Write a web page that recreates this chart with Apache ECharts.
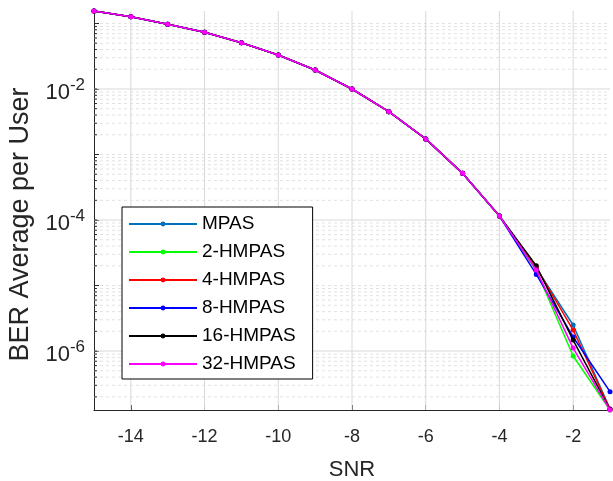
<!DOCTYPE html>
<html>
<head>
<meta charset="utf-8">
<script src="https://cdn.jsdelivr.net/npm/echarts@6/dist/echarts.min.js"></script>
<style>html,body{margin:0;padding:0;background:#fff;}#c{width:613px;height:481px;}</style>
</head>
<body>
<div id="c"></div>
<script>
const snr = [-15, -14, -13, -12, -11, -10, -9, -8, -7, -6, -5, -4, -3, -2, -1];
const seriesNames = ['MPAS', '2-HMPAS', '4-HMPAS', '8-HMPAS', '16-HMPAS', '32-HMPAS'];
const mpas    = [0.155, 0.127, 0.0973, 0.0734, 0.0509, 0.033, 0.0195, 0.01, 0.0045, 0.00173, 5.16e-4, 1.15e-4, 1.85e-5, 2.5e-6, 1.3e-7];
const hmpas2  = [0.155, 0.127, 0.0973, 0.0734, 0.0509, 0.033, 0.0195, 0.01, 0.0045, 0.00173, 5.16e-4, 1.15e-4, 1.7e-5, 8.4e-7, 1.26e-7];
const hmpas4  = [0.155, 0.127, 0.0973, 0.0734, 0.0509, 0.033, 0.0195, 0.01, 0.0045, 0.00173, 5.16e-4, 1.15e-4, 1.9e-5, 2.09e-6, 1.3e-7];
const hmpas8  = [0.155, 0.127, 0.0973, 0.0734, 0.0509, 0.033, 0.0195, 0.01, 0.0045, 0.00173, 5.16e-4, 1.15e-4, 1.48e-5, 1.64e-6, 2.4e-7];
const hmpas16 = [0.155, 0.127, 0.0973, 0.0734, 0.0509, 0.033, 0.0195, 0.01, 0.0045, 0.00173, 5.16e-4, 1.15e-4, 2.0e-5, 1.47e-6, 1.28e-7];
const hmpas32 = [0.155, 0.127, 0.0973, 0.0734, 0.0509, 0.033, 0.0195, 0.01, 0.0045, 0.00173, 5.16e-4, 1.15e-4, 1.73e-5, 1.11e-6, 1.26e-7];
const seriesColors = ['#0072BD', '#00FF00', '#FF0000', '#0000FF', '#000000', '#FF00FF'];
const xTickValues = [-14, -12, -10, -8, -6, -4, -2];
const yMajorExps = [-6, -4, -2];
const yMin = 1.26e-7, yMax = 0.155;
const xMin = -15, xMax = -1;

const allData = [mpas, hmpas2, hmpas4, hmpas8, hmpas16, hmpas32];
const FONT = "'Liberation Sans', Arial, Helvetica, sans-serif";
const AX = '#262626';

// grid lines, drawn as line series through the axes
const majorGrid = [], minorGrid = [], xGrid = [], yTickMinor = [];
for (let k = -7; k <= 0; k++) {
  for (let m = 1; m <= 9; m++) {
    const v = m * Math.pow(10, k);
    if (v <= yMin * 1.001 || v >= yMax * 0.999) continue;
    const major = (m === 1 && yMajorExps.indexOf(k) >= 0);
    (major ? majorGrid : minorGrid).push([xMin, v], [xMax, v], '-');
    yTickMinor.push([xMin, v], [xMin + 0.08, v], '-');
  }
}
xTickValues.forEach(x => xGrid.push([x, yMin], [x, yMax], '-'));

const gridStyle = (color, type) => ({
  type: 'line', showSymbol: false, symbol: 'none', silent: true, connectNulls: false,
  lineStyle: { color: color, width: 1, type: type }, z: 0, animation: false, legendHoverLink: false
});
const series = [
  Object.assign(gridStyle('#e2e2e2', [3, 3]), { name: '_minor', data: minorGrid }),
  Object.assign(gridStyle('#d9d9d9', 'solid'), { name: '_major', data: majorGrid }),
  Object.assign(gridStyle('#d9d9d9', 'solid'), { name: '_xgrid', data: xGrid }),
  Object.assign(gridStyle(AX, 'solid'), { name: '_ytick', data: yTickMinor, z: 10 })
];
seriesNames.forEach((n, i) => {
  series.push({
    name: n, type: 'line', data: snr.map((x, j) => [x, allData[i][j]]),
    symbol: 'circle', symbolSize: 5, showSymbol: true,
    lineStyle: { color: seriesColors[i], width: 1.5 },
    itemStyle: { color: seriesColors[i] },
    animation: false, clip: true, z: 2 + i
  });
});

const chart = echarts.init(document.getElementById('c'), null, { renderer: 'canvas' });
chart.setOption({
  backgroundColor: '#fff',
  animation: false,
  grid: { left: 94, right: 3, top: 11, bottom: 71, containLabel: false, outerBoundsMode: 'none' },
  xAxis: {
    type: 'value', min: xMin, max: xMax, splitNumber: 7,
    name: 'SNR', nameLocation: 'middle', nameGap: 49,
    nameTextStyle: { fontFamily: FONT, fontSize: 22, color: AX },
    axisLine: { show: true, lineStyle: { color: AX, width: 1 } },
    axisTick: { show: true, inside: true, length: 5, lineStyle: { color: AX } },
    axisLabel: { fontFamily: FONT, fontSize: 18, color: AX, margin: 18, showMinLabel: false, showMaxLabel: false,
      formatter: v => (xTickValues.indexOf(v) >= 0 ? String(v) : '') },
    splitLine: { show: false }
  },
  yAxis: {
    type: 'log', logBase: 10, min: yMin, max: yMax,
    name: 'BER Average per User', nameLocation: 'middle', nameGap: 59,
    nameTextStyle: { fontFamily: FONT, fontSize: 27, color: AX, padding: [0, 28, 0, 0] },
    axisLine: { show: true, lineStyle: { color: AX, width: 1 } },
    axisTick: { show: true, inside: true, length: 5, lineStyle: { color: AX } },
    axisLabel: {
      margin: 9, fontFamily: FONT, color: AX,
      formatter: v => {
        const e = Math.round(Math.log10(v));
        if (Math.abs(Math.log10(v) - e) > 1e-6 || yMajorExps.indexOf(e) < 0) return '';
        return '{b|10}{s|' + e + '}';
      },
      rich: {
        b: { fontFamily: FONT, fontSize: 22, color: AX, padding: [8, 0, 0, 0] },
        s: { fontFamily: FONT, fontSize: 17, color: AX, padding: [0, 0, 8, 0] }
      }
    },
    splitLine: { show: false }
  },
  legend: {
    data: seriesNames, orient: 'vertical', left: 122, top: 207,
    backgroundColor: '#fff', borderColor: '#000', borderWidth: 1,
    padding: [3, 17, 1, 6], itemWidth: 68, itemHeight: 6, itemGap: 0,
    textStyle: { fontFamily: FONT, fontSize: 19, color: '#000', lineHeight: 28 }
  },
  series: series
});
</script>
</body>
</html>
